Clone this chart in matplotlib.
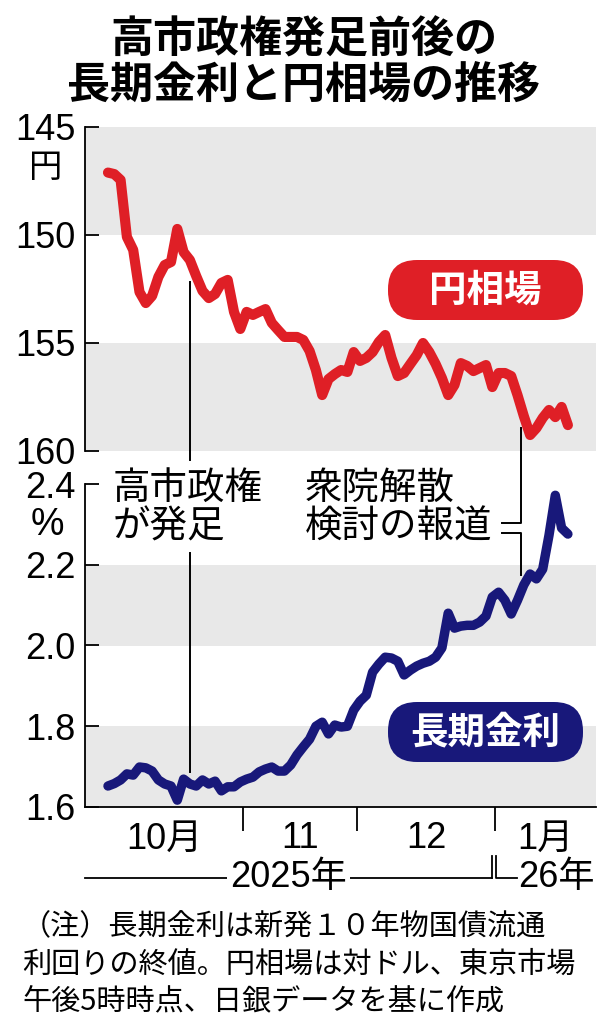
import numpy as np
import matplotlib
matplotlib.use('Agg')
import matplotlib.pyplot as plt
import matplotlib.transforms as mtransforms
from matplotlib.patches import FancyBboxPatch

plt.rcParams['font.family'] = ['Noto Sans CJK JP', 'DejaVu Sans']

# trading days per month (Oct 2025 - Jan 2026)
month_labels = ['10月', '11', '12', '1月']
days_per_month = [22, 18, 22, 12]

# yen per dollar, Tokyo 5pm
yen_rate = [147.11, 147.18, 147.45, 150.09, 150.69, 152.64, 153.15, 152.82, 151.94, 151.39,
            151.25, 149.72, 150.79, 151.16, 151.90, 152.59, 152.92, 152.73, 152.22, 152.08,
            153.56, 154.35, 153.56, 153.70, 153.56, 153.43, 154.07, 154.40, 154.72, 154.72,
            154.72, 154.86, 155.37, 156.25, 157.41, 156.67, 156.44, 156.25, 156.34, 155.42,
            155.83, 155.69, 155.42, 154.95, 154.63, 155.69, 156.53, 156.39, 155.97, 155.56,
            155.00, 155.42, 155.97, 156.62, 157.41, 156.94, 155.93, 156.06, 156.30, 156.16,
            156.02, 157.04, 156.39, 156.39, 156.53, 157.41, 158.38, 159.26, 158.94, 158.47,
            158.10, 158.43, 157.96, 158.80]

# 10-year JGB yield, %
jgb_yield = [1.652, 1.658, 1.667, 1.682, 1.679, 1.699, 1.697, 1.689, 1.667, 1.657,
             1.652, 1.617, 1.669, 1.657, 1.652, 1.667, 1.657, 1.664, 1.640, 1.650,
             1.650, 1.662, 1.669, 1.674, 1.687, 1.694, 1.699, 1.689, 1.689, 1.704,
             1.729, 1.749, 1.768, 1.800, 1.810, 1.781, 1.803, 1.798, 1.800, 1.840,
             1.862, 1.877, 1.934, 1.954, 1.971, 1.969, 1.961, 1.927, 1.939, 1.949,
             1.956, 1.961, 1.971, 1.994, 2.080, 2.043, 2.048, 2.050, 2.050, 2.058,
             2.073, 2.120, 2.132, 2.112, 2.078, 2.112, 2.150, 2.177, 2.165, 2.189,
             2.273, 2.372, 2.291, 2.276]

yen_ticks = [145, 150, 155, 160]
yield_ticks = [1.6, 1.8, 2.0, 2.2, 2.4]

takaichi_day = 13        # Oct 21
dissolution_day = 65.5   # report of lower house dissolution

RED = '#df1f26'
NAVY = '#18187a'
BAND = '#e8e8e8'
NUM_FONT = ['Liberation Sans', 'Noto Sans CJK JP']

W, H = 604, 1024


def fx(px):
    return px / W


def fy(py):
    return 1 - py / H


fig = plt.figure(figsize=(W / 100, H / 100), dpi=100)
ax1 = fig.add_axes([fx(85), fy(451), fx(596) - fx(85), fy(127) - fy(451)])
ax2 = fig.add_axes([fx(85), fy(807), fx(596) - fx(85), fy(484) - fy(807)])

x = np.arange(len(yen_rate))
xlim = (-3.65, 77.46)
edges = np.cumsum(days_per_month)[:-1] - 0.5
bounds = [xlim[0]] + list(edges) + [xlim[1]]
centers = [(a + b) / 2 for a, b in zip(bounds[:-1], bounds[1:])]

# upper panel: yen
for lo, hi in [(145, 150), (155, 160)]:
    ax1.axhspan(lo, hi, color=BAND, lw=0, zorder=0)
ax1.plot(x, yen_rate, color=RED, lw=7.3, solid_joinstyle='round',
         solid_capstyle='round', zorder=3)
ax1.set_xlim(*xlim)
ax1.set_ylim(160, 145)
ax1.set_yticks(yen_ticks)
ax1.set_xticks([])

# lower panel: JGB yield
for lo, hi in [(1.6, 1.8), (2.0, 2.2)]:
    ax2.axhspan(lo, hi, color=BAND, lw=0, zorder=0)
ax2.plot(x, jgb_yield, color=NAVY, lw=6.8, solid_joinstyle='round',
         solid_capstyle='round', zorder=3)
ax2.set_xlim(*xlim)
ax2.set_ylim(1.6, 2.4)
ax2.set_yticks(yield_ticks)
ax2.set_yticklabels([f'{v:.1f}' for v in yield_ticks])
ax2.set_xticks(edges)
ax2.set_xticklabels([])
ax2.tick_params(axis='x', direction='out', length=17, width=1.3, color='black')

for ax in (ax1, ax2):
    for s in ['top', 'right']:
        ax.spines[s].set_visible(False)
    ax.spines['left'].set_linewidth(1.3)
    ax.tick_params(axis='y', direction='in', length=10, width=1.3, pad=7,
                   labelsize=26, labelfontfamily='Liberation Sans')
    ax.set_facecolor('none')
ax1.spines['bottom'].set_visible(False)
ax2.spines['bottom'].set_linewidth(1.3)

# month labels and year row
bt = mtransforms.blended_transform_factory(ax2.transData, fig.transFigure)
for c, lab in zip(centers, month_labels):
    fig.text(c, fy(839), lab, transform=bt, ha='center', va='center',
             fontsize=26, family=NUM_FONT)

yr = fy(878)
jan = edges[-1]
fig.add_artist(plt.Line2D([xlim[0], jan - 0.6], [yr, yr], transform=bt, color='black', lw=1.3))
fig.add_artist(plt.Line2D([jan - 0.6, jan - 0.6], [yr, fy(856)], transform=bt, color='black', lw=1.3))
fig.add_artist(plt.Line2D([jan + 0.1, jan + 0.1, jan + 3.4], [fy(856), yr, yr], transform=bt,
                          color='black', lw=1.3))
fig.text((xlim[0] + jan - 0.6) / 2, yr, '2025年', transform=bt, ha='center', va='center',
         fontsize=26, family=NUM_FONT,
         bbox=dict(facecolor='white', edgecolor='none', pad=2))
fig.text(jan + 3.6, yr, '26年', transform=bt, ha='left', va='center',
         fontsize=26, family=NUM_FONT)

# units
fig.text(fx(46), fy(167), '円', ha='center', va='center', fontsize=24)
fig.text(fx(47), fy(525), '%', ha='center', va='center', fontsize=27, family=NUM_FONT)

# event lines
ev = dict(color='black', lw=1.4, clip_on=False, zorder=4)
ax1.plot([takaichi_day, takaichi_day], [152.18, 160.42], **ev)
ax2.plot([takaichi_day, takaichi_day], [2.229, 1.687], **ev)
ax2.plot([dissolution_day, dissolution_day, 62.5], [2.539, 2.303, 2.303], **ev)
ax2.plot([62.5, dissolution_day, dissolution_day], [2.278, 2.278, 2.174], **ev)

fig.text(fx(113), fy(488), '高市政権', ha='left', va='center', fontsize=27)
fig.text(fx(113), fy(527), 'が発足', ha='left', va='center', fontsize=27)
fig.text(fx(305), fy(488), '衆院解散', ha='left', va='center', fontsize=27)
fig.text(fx(305), fy(527), '検討の報道', ha='left', va='center', fontsize=27)

# series badges
r = 0.29
for (x0, y0, x1, y1), col, lab in [((388, 260, 583, 320), RED, '円相場'),
                                   ((388, 702, 583, 762), NAVY, '長期金利')]:
    bx, by = x0 / 100, (H - y1) / 100
    bw, bh = (x1 - x0) / 100, (y1 - y0) / 100
    fig.add_artist(FancyBboxPatch((bx + r, by + r), bw - 2 * r, bh - 2 * r,
                                  boxstyle=f'round,pad={r},rounding_size={r}',
                                  transform=fig.dpi_scale_trans, facecolor=col,
                                  edgecolor='none'))
    fig.text(fx((x0 + x1) / 2), fy((y0 + y1) / 2), lab, ha='center', va='center',
             color='white', fontsize=27, fontweight='bold')

# title
fig.text(0.503, fy(40), '高市政権発足前後の', ha='center', va='center',
         fontsize=31, fontweight='bold')
fig.text(0.503, fy(85), '長期金利と円相場の推移', ha='center', va='center',
         fontsize=31, fontweight='bold')

# note
notes = ['（注）長期金利は新発１０年物国債流通',
         '利回りの終値。円相場は対ドル、東京市場',
         '午後5時時点、日銀データを基に作成']
for yy, line in zip([927, 965, 1001], notes):
    fig.text(fx(22), fy(yy), line, ha='left', va='center', fontsize=21)

fig.savefig('out.png', dpi=100)
